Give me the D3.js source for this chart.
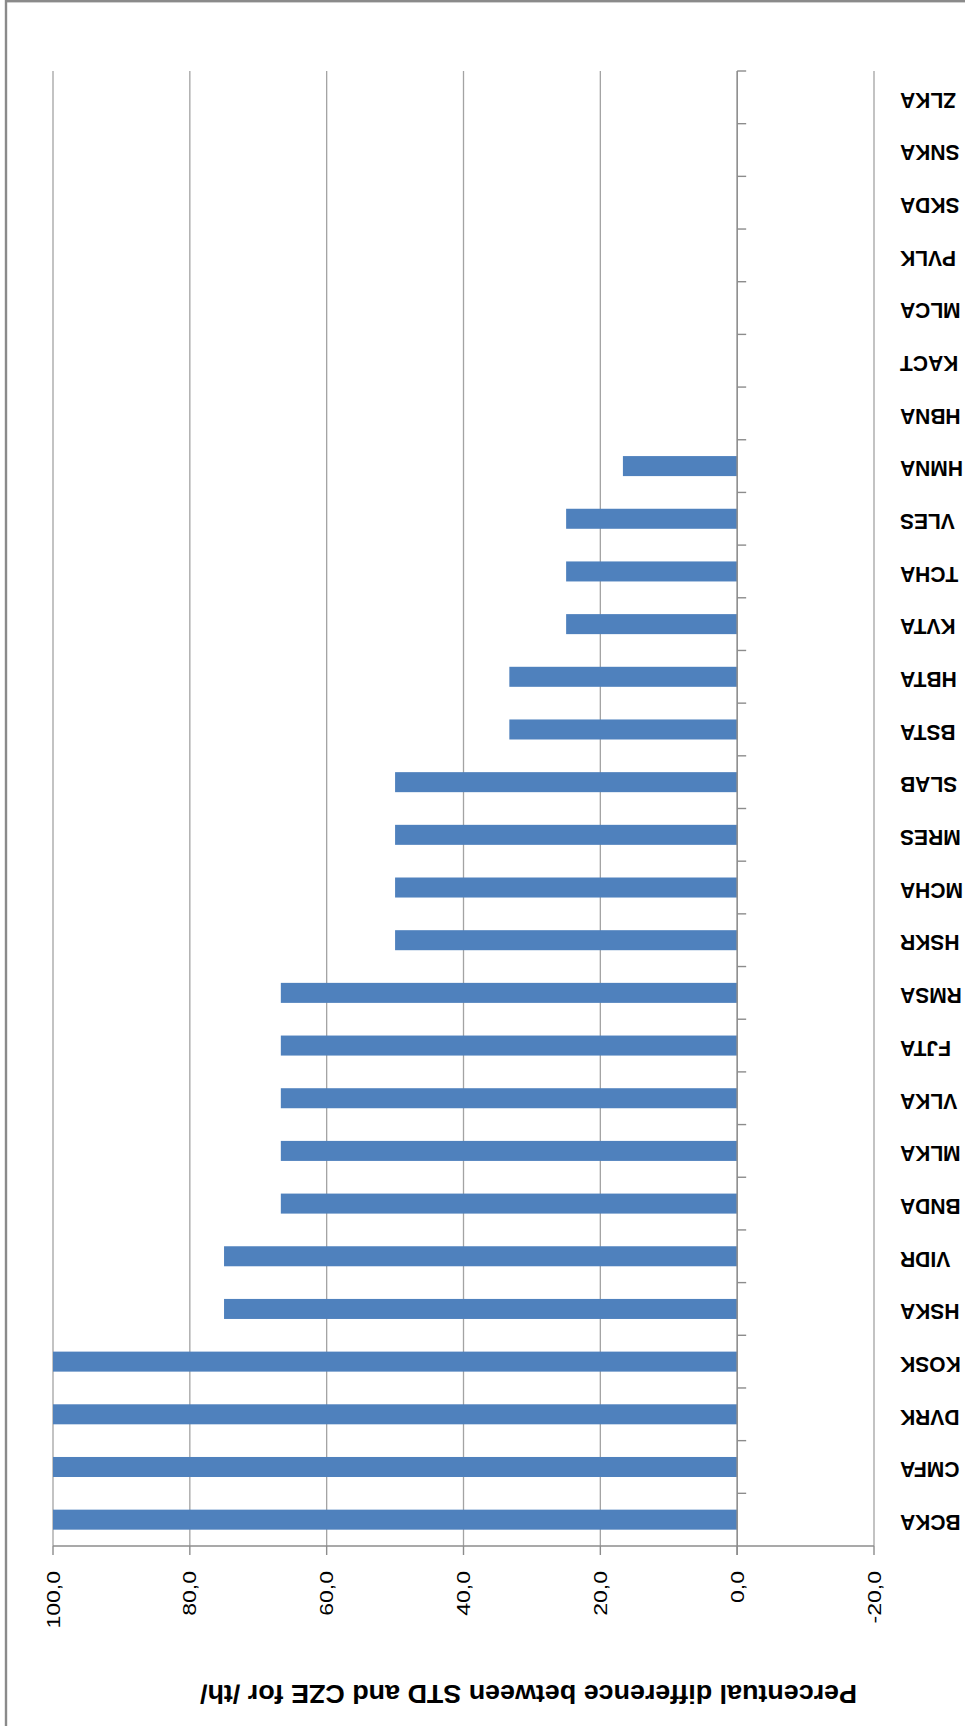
<!DOCTYPE html>
<html>
<head>
<meta charset="utf-8">
<script src="https://cdn.jsdelivr.net/npm/d3@7"></script>
<style>
  html, body { margin: 0; padding: 0; background: #fff; }
  svg { display: block; }
</style>
</head>
<body>
<svg id="chart" width="965" height="1726"></svg>
<script>
// Data (chart is shown rotated by 180 degrees)
const categories = ["BCKA","CMFA","DVRK","KOSK","HSKA","VIDR","BNDA","MLKA","VLKA","FJTA","RMSA","HSKR","MCHA","MRES","SLAB","BSTA","HBTA","KVTA","TCHA","VLES","HMNA","HBNA","KACT","MLCA","PVLK","SKDA","SNKA","ZLKA"];
const values = [100,100,100,100,75,75,66.7,66.7,66.7,66.7,66.7,50,50,50,50,33.3,33.3,25,25,25,16.7,0,0,0,0,0,0,0];
const xTicks = [-20,0,20,40,60,80,100];
const axisTitle = "Percentual difference between STD and CZE for /th/";

const data = categories.map((c, i) => ({ cat: c, val: values[i] }));

const svg = d3.select("#chart");
const W = 965, H = 1726;

// frame
svg.append("rect").attr("x", 0).attr("y", 0).attr("width", W).attr("height", H).attr("fill", "#fff");
svg.append("rect").attr("x", 6).attr("y", 1.2).attr("width", 1200).attr("height", 2000)
  .attr("fill", "none").attr("stroke", "#8a8a8a").attr("stroke-width", 2.4);

const plotTop = 71, plotBottom = 1546;
const x = d3.scaleLinear().domain([-20, 100]).range([874, 53]);
const y = d3.scaleBand().domain(categories).range([plotBottom, plotTop])
  .paddingInner(0.62).paddingOuter(0.31);
const step = (plotBottom - plotTop) / categories.length;

const locale = d3.formatLocale({ decimal: ",", thousands: " ", grouping: [3], currency: ["", ""], minus: "-" });
const fmt = locale.format(".1f");

// gridlines
svg.append("g").selectAll("line").data(xTicks.filter(t => t !== 0)).join("line")
  .attr("x1", d => x(d)).attr("x2", d => x(d))
  .attr("y1", plotTop).attr("y2", plotBottom)
  .attr("stroke", "#a3a3a3").attr("stroke-width", 1.3);

// bars
svg.append("g").selectAll("rect").data(data.filter(d => d.val !== 0)).join("rect")
  .attr("x", d => x(d.val))
  .attr("width", d => x(0) - x(d.val))
  .attr("y", d => y(d.cat))
  .attr("height", y.bandwidth())
  .attr("fill", "#4f81bd");

// value axis (bottom on screen)
const axG = svg.append("g");
axG.append("line").attr("x1", x(100)).attr("x2", x(-20)).attr("y1", plotBottom).attr("y2", plotBottom)
  .attr("stroke", "#8c8c8c").attr("stroke-width", 1.6);
axG.selectAll("line.tick").data(xTicks).join("line").attr("class", "tick")
  .attr("x1", d => x(d)).attr("x2", d => x(d)).attr("y1", plotBottom).attr("y2", plotBottom + 9)
  .attr("stroke", "#8c8c8c").attr("stroke-width", 1.4);
axG.selectAll("text").data(xTicks).join("text")
  .attr("transform", d => `translate(${x(d)},1571) rotate(-90) scale(1.28,1)`)
  .attr("text-anchor", "end")
  .attr("dominant-baseline", "central")
  .attr("font-family", "'Liberation Sans', Arial, sans-serif")
  .attr("font-size", 18)
  .attr("fill", "#000")
  .text(d => fmt(d));

// category axis at zero
const catG = svg.append("g");
catG.append("line").attr("x1", x(0)).attr("x2", x(0)).attr("y1", plotTop).attr("y2", plotBottom + 9)
  .attr("stroke", "#8c8c8c").attr("stroke-width", 1.6);
catG.selectAll("line.tick").data(d3.range(categories.length)).join("line").attr("class", "tick")
  .attr("x1", x(0)).attr("x2", x(0) + 9)
  .attr("y1", i => plotTop + i * step).attr("y2", i => plotTop + i * step)
  .attr("stroke", "#8c8c8c").attr("stroke-width", 1.4);
catG.selectAll("text").data(categories).join("text")
  .attr("transform", d => `translate(900,${y(d) + y.bandwidth() / 2 + 3}) rotate(180) scale(1,1.06)`)
  .attr("text-anchor", "end")
  .attr("dominant-baseline", "central")
  .attr("font-family", "'Liberation Sans', Arial, sans-serif")
  .attr("font-weight", "bold")
  .attr("font-size", 21)
  .attr("fill", "#000")
  .text(d => d);

// axis title (upside down)
svg.append("text")
  .attr("transform", "translate(528.5,1685) rotate(180)")
  .attr("text-anchor", "middle")
  .attr("font-family", "'Liberation Sans', Arial, sans-serif")
  .attr("font-weight", "bold")
  .attr("font-size", 25)
  .attr("textLength", 657)
  .attr("lengthAdjust", "spacingAndGlyphs")
  .attr("fill", "#000")
  .text(axisTitle);
</script>
</body>
</html>
